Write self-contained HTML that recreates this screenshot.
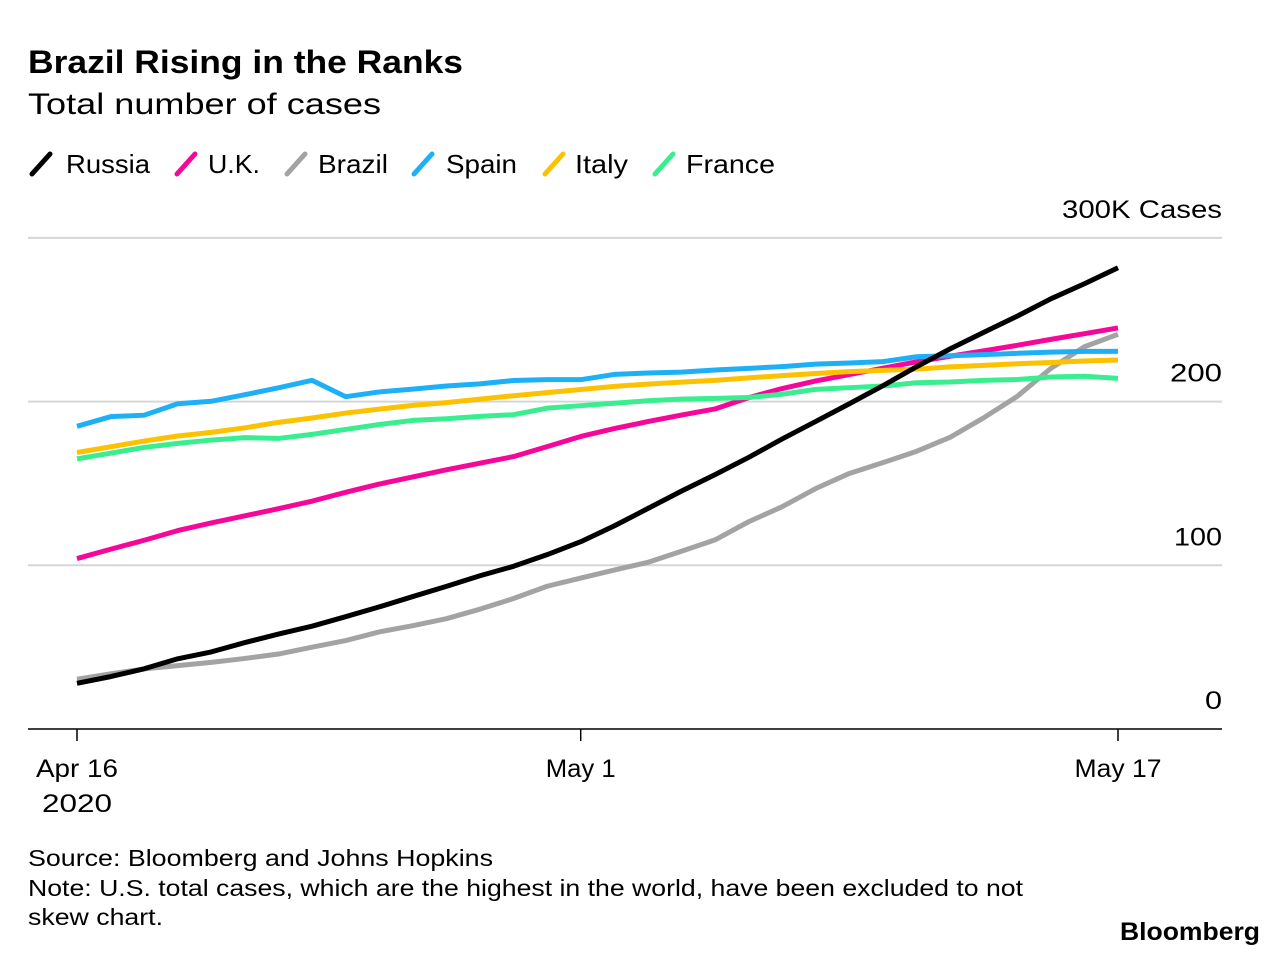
<!DOCTYPE html>
<html><head><meta charset="utf-8"><style>
body{margin:0;background:#fff;font-family:"Liberation Sans",sans-serif;}
svg text{font-family:"Liberation Sans",sans-serif;}
</style></head><body>
<svg id="chart" width="1287" height="956" xmlns="http://www.w3.org/2000/svg">
<text x="28" y="73" font-size="32" font-weight="bold" fill="#000" textLength="435" lengthAdjust="spacingAndGlyphs">Brazil Rising in the Ranks</text>
<text x="28" y="114" font-size="30" fill="#000" textLength="353" lengthAdjust="spacingAndGlyphs">Total number of cases</text>
<g id="legend"></g>
<g id="grid"></g>
<g id="lines"></g>
<text x="28" y="866" font-size="23" fill="#000" textLength="465" lengthAdjust="spacingAndGlyphs">Source: Bloomberg and Johns Hopkins</text>
<text x="28" y="896" font-size="23" fill="#000" textLength="995" lengthAdjust="spacingAndGlyphs">Note: U.S. total cases, which are the highest in the world, have been excluded to not</text>
<text x="28" y="925" font-size="23" fill="#000" textLength="135" lengthAdjust="spacingAndGlyphs">skew chart.</text>
<text x="1120" y="940" font-size="25" font-weight="bold" fill="#000" textLength="140" lengthAdjust="spacingAndGlyphs">Bloomberg</text>
</svg>
<script>
const russia=[27.9,32.0,36.8,42.9,47.1,52.8,58.0,62.8,68.6,74.6,80.9,87.1,93.6,99.4,106.5,114.4,124.1,134.7,145.3,155.4,165.9,177.2,187.9,198.7,209.7,221.3,232.2,242.3,252.2,262.8,272.0,281.8];
const uk=[104.1,109.8,115.3,121.2,125.9,130.2,134.6,139.2,144.6,149.6,154.0,158.3,162.4,166.4,172.5,178.7,183.5,187.8,191.8,195.5,202.4,208.0,212.6,216.5,220.4,224.3,227.7,231.0,234.4,238.0,241.5,245.0];
const brazil=[30.4,33.7,36.7,38.7,40.7,43.1,45.8,50.0,54.0,59.3,63.1,67.4,73.2,79.7,87.2,92.2,97.1,101.8,108.6,115.5,126.6,135.8,146.9,156.1,162.7,169.6,178.2,190.1,203.2,220.3,233.5,241.1];
const spain=[184.9,190.8,191.7,198.7,200.2,204.2,208.4,213.0,203.0,205.9,207.6,209.5,210.8,212.9,213.4,213.4,216.6,217.5,218.0,219.3,220.3,221.4,222.9,223.6,224.4,227.4,228.0,228.7,229.5,230.2,230.7,230.7];
const italy=[168.9,172.4,175.9,179.0,181.2,184.0,187.3,190.0,193.0,195.4,197.7,199.4,201.5,203.6,205.5,207.4,209.3,210.7,211.9,213.0,214.5,215.9,217.2,218.3,219.1,219.8,221.2,222.1,223.1,223.9,224.8,225.4];
const france=[165,168.5,172,174.5,176.5,178,177.5,180,183,186,188.5,189.5,191,192,196,197.5,199,200.5,201.5,202,202.5,204.5,207.5,208.5,209.5,211.5,212,213,213.5,215,215.5,214.2];
const seriesNames=["Russia","U.K.","Brazil","Spain","Italy","France"];
const seriesColors=["#000000","#f5079a","#a3a3a3","#1eb0f7","#fcc200","#39ee8f"];
const yTicks=[0,100,200,300];
const xTickDays=[0,15,31];
const xTickLabels=["Apr 16","May 1","May 17"];
const NS="http://www.w3.org/2000/svg";
const x=d=>77+d*(1118-77)/31;
const y=v=>729-v*1.637;
function mk(tag,attrs,parent){const e=document.createElementNS(NS,tag);for(const k in attrs)e.setAttribute(k,attrs[k]);parent.appendChild(e);return e;}
const grid=document.getElementById('grid'),lines=document.getElementById('lines'),legend=document.getElementById('legend');
const yLabW={0:17,100:48,200:52,300:160};
yTicks.forEach(t=>{
  if(t>0){const l=mk('line',{x1:28,x2:1222,y1:y(t),y2:y(t),stroke:'#d6d6d6','stroke-width':2},grid);
  
  }
  const tx=mk('text',{x:1222,y:y(t)-20,'font-size':25,'text-anchor':'end',fill:'#000',textLength:yLabW[t],lengthAdjust:'spacingAndGlyphs'},grid);
  tx.textContent=t===300?'300K Cases':String(t);
  
  
});
const base=mk('line',{x1:28,x2:1222,y1:729,y2:729,stroke:'#000','stroke-width':1.5},grid);


const xLabW=[82,70,87];
xTickDays.forEach((d,i)=>{
  const tk=mk('line',{x1:x(d),x2:x(d),y1:729,y2:741,stroke:'#000','stroke-width':1.5},grid);
  
  
  const tx=mk('text',{x:x(d),y:777,'font-size':25,'text-anchor':'middle',fill:'#000',textLength:xLabW[i],lengthAdjust:'spacingAndGlyphs'},grid);
  tx.textContent=xTickLabels[i];
  
  
});
const yr=mk('text',{x:x(0),y:812,'font-size':25,'text-anchor':'middle',fill:'#000',textLength:70,lengthAdjust:'spacingAndGlyphs'},grid);
yr.textContent='2020';


[russia,uk,brazil,spain,italy,france].forEach((s,i)=>{
  const p=mk('polyline',{points:s.map((v,d)=>x(d)+','+y(v)).join(' '),fill:'none',stroke:seriesColors[i],'stroke-width':5,'stroke-linejoin':'round'},lines);
  
  
});
lines.appendChild(lines.firstChild);
const lx=[30,175,285,412,543,653];
const tx0=[66,208,318,446,575,686];
const tw=[84,52,70,71,53,89];
seriesNames.forEach((n,i)=>{
  const g=mk('g',{},legend);
  
  
  mk('line',{x1:lx[i]+2,y1:174,x2:lx[i]+20,y2:154,stroke:seriesColors[i],'stroke-width':5,'stroke-linecap':'round'},g);
  const t=mk('text',{x:tx0[i],y:173,'font-size':26,fill:'#000',textLength:tw[i],lengthAdjust:'spacingAndGlyphs'},g);
  t.textContent=n;
});
</script>
</body></html>
